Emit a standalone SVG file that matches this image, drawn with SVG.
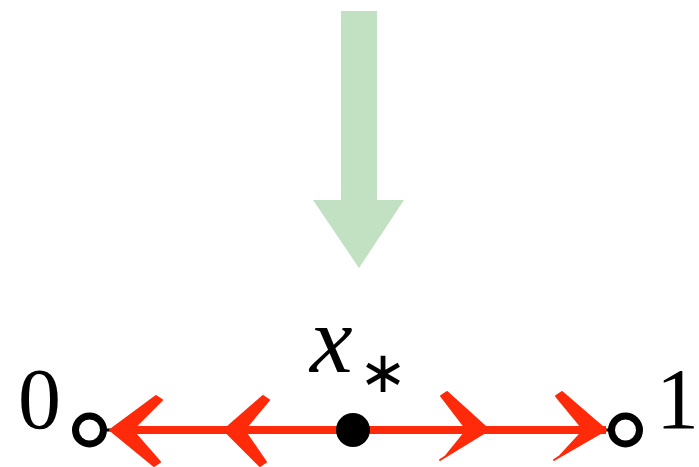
<svg xmlns="http://www.w3.org/2000/svg" width="699" height="467" viewBox="0 0 699 467">
<style>
.red{fill:#ff2a0a;stroke:#ff2a0a;stroke-linejoin:round}
.t{font-family:"Liberation Serif",serif;fill:#000}
.ring{fill:#fff;stroke:#000;stroke-width:7}
</style>
<rect width="699" height="467" fill="#fff"/>
<g id="flow-arrow">
<polygon points="341,11 377,11 377,200 404,200 359,268 313,200 341,200" fill="#c2e0c2"/>
</g>
<g id="connectors">
<line x1="90" y1="430" x2="626" y2="430" stroke="#000" stroke-width="3"/>
<g class="red">
<line x1="114" y1="430" x2="350" y2="430" stroke-width="8"/>
<line x1="354" y1="430" x2="606" y2="430" stroke-width="8"/>
<polygon points="110,430 156,396 162,400 132,430 160,462 154,466" stroke-width="2"/>
<polygon points="224,430 263,396 269,400 244,430 266,462 260,466" stroke-width="2"/>
<polygon points="489,430 447,392 441,396 467,430 446,456 440,460" stroke-width="2"/>
<polygon points="606,430 562,392 556,396 584,430 560,456 554,460" stroke-width="2"/>
</g>
</g>
<g id="node-0">
<circle class="ring" cx="89.5" cy="430" r="14"/>
<text class="t" x="18" y="428" font-size="86">0</text>
</g>
<g id="node-xstar">
<circle cx="353" cy="430" r="17" fill="#000"/>
<text class="t" x="310" y="372" font-size="96" font-style="italic">x</text>
<text x="383" y="392" font-size="58" text-anchor="middle" font-family="'DejaVu Sans',sans-serif">∗</text>
</g>
<g id="node-1">
<circle class="ring" cx="625.5" cy="430" r="14"/>
<text class="t" x="656" y="428" font-size="86">1</text>
</g>
</svg>
